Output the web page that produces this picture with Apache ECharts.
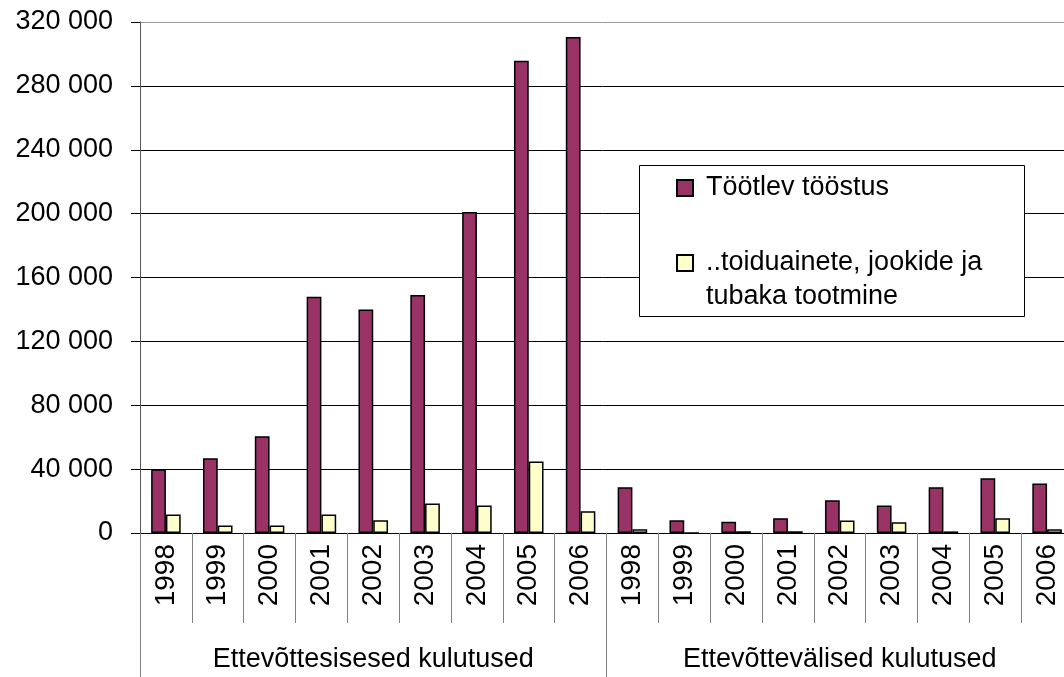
<!DOCTYPE html>
<html>
<head>
<meta charset="utf-8">
<script src="https://cdn.jsdelivr.net/npm/echarts@6/dist/echarts.min.js"></script>
<style>
html,body{margin:0;padding:0;background:#fff;}
#chart{width:1064px;height:677px;}
</style>
</head>
<body>
<div id="chart"></div>
<script>
const years = ['1998','1999','2000','2001','2002','2003','2004','2005','2006'];
const groups = ['Ettevõttesisesed kulutused', 'Ettevõttevälised kulutused'];
const seriesNames = ['Töötlev tööstus', '..toiduainete, jookide ja tubaka tootmine'];
const yTicks = [0, 40000, 80000, 120000, 160000, 200000, 240000, 280000, 320000];
// group 1 (sisesed) then group 2 (välised)
const manufacturing = [40000, 46800, 60600, 148000, 140000, 149000, 201000, 295800, 310600,
                       28700, 8000, 7000, 9300, 20500, 17200, 28700, 34300, 31000];
const food = [11600, 4700, 4700, 11600, 8000, 18500, 17200, 44800, 13600,
              2400, 0, 1100, 1100, 7800, 6800, 1000, 9300, 2400];

const categories = groups.flatMap(() => years);
const FONT = "'Liberation Sans', Arial, sans-serif";
const fmt = v => String(v).replace(/\B(?=(\d{3})+(?!\d))/g, ' ');

const chart = echarts.init(document.getElementById('chart'), null, {renderer: 'canvas'});
chart.setOption({
  animation: false,
  backgroundColor: '#fff',
  textStyle: {fontFamily: FONT},
  grid: {left: 140, top: 22, right: -9, bottom: 144, containLabel: false, outerBoundsMode: 'none'},
  xAxis: [{
    type: 'category', data: categories, position: 'bottom',
    axisLine: {show: true, lineStyle: {color: '#000', width: 1}},
    axisTick: {show: true, interval: 0, length: 90, lineStyle: {color: '#808080'}},
    axisLabel: {interval: 0, rotate: 90, margin: 11, fontSize: 28, color: '#000', fontFamily: FONT}
  }, {
    type: 'category', data: groups, position: 'bottom', offset: 0,
    axisLine: {show: false},
    axisTick: {show: true, interval: 0, length: 150, lineStyle: {color: '#808080'}},
    axisLabel: {interval: 0, margin: 113, fontSize: 27, color: '#000', fontFamily: FONT}
  }],
  yAxis: {
    type: 'value', min: yTicks[0], max: yTicks[yTicks.length - 1], interval: 40000,
    axisLine: {show: true, lineStyle: {color: '#555', width: 1}},
    axisTick: {show: true, length: 9, lineStyle: {color: '#000'}},
    axisLabel: {margin: 27, fontSize: 27, color: '#000', fontFamily: FONT, formatter: fmt},
    splitLine: {show: true, lineStyle: {color: ['#000','#000','#000','#000','#000','#000','#000','#000','#999'], width: 1}}
  },
  legend: [{
    data: [seriesNames[0]], orient: 'vertical', left: 676, top: 171, padding: 0,
    icon: 'rect', itemWidth: 16, itemHeight: 16, selectedMode: false,
    textStyle: {fontSize: 27, color: '#000', lineHeight: 34, fontFamily: FONT, padding: [0, 0, 0, 8]}
  }, {
    data: [seriesNames[1]], orient: 'vertical', left: 676, top: 212, padding: 0,
    icon: 'rect', itemWidth: 16, itemHeight: 16, selectedMode: false,
    formatter: () => '\n..toiduainete, jookide ja\ntubaka tootmine',
    textStyle: {fontSize: 27, color: '#000', lineHeight: 34, fontFamily: FONT, padding: [0, 0, 0, 8]}
  }],
  graphic: [{
    type: 'rect', z: 3, silent: true,
    shape: {x: 639.5, y: 165.5, width: 385, height: 151},
    style: {fill: '#fff', stroke: '#000', lineWidth: 1}
  }],
  series: [{
    name: seriesNames[0], type: 'bar', data: manufacturing,
    barGap: '0%', barCategoryGap: '43%',
    itemStyle: {color: '#993366', borderColor: '#000', borderWidth: 1.5}
  }, {
    name: seriesNames[1], type: 'bar', data: food,
    barGap: '0%', barCategoryGap: '43%',
    itemStyle: {color: '#FFFFCC', borderColor: '#000', borderWidth: 1.5}
  }]
});
</script>
</body>
</html>
